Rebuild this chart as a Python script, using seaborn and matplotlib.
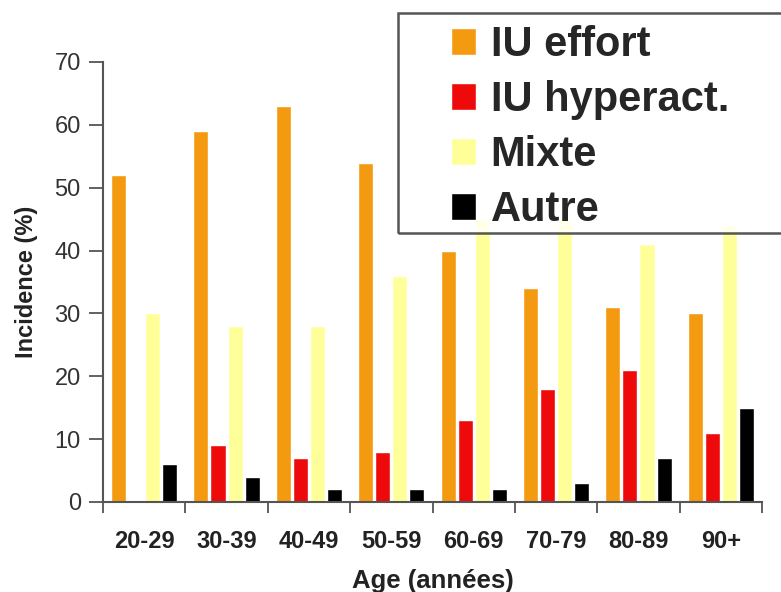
import pandas as pd
import numpy as np
import matplotlib.pyplot as plt
import seaborn as sns
from matplotlib.patches import Rectangle

ages = ['20-29', '30-39', '40-49', '50-59', '60-69', '70-79', '80-89', '90+']
types = ['IU effort', 'IU hyperact.', 'Mixte', 'Autre']
effort = [52, 59, 63, 54, 40, 34, 31, 30]
hyperact = [0, 9, 7, 8, 13, 18, 21, 11]
mixte = [30, 28, 28, 36, 45, 45, 41, 44]
autre = [6, 4, 2, 2, 2, 3, 7, 15]
colors = ['#F39A10', '#EE0A0A', '#FFFF99', '#000000']

df = pd.DataFrame({'age': ages * 4,
                   'type': np.repeat(types, len(ages)),
                   'value': effort + hyperact + mixte + autre})

sns.set_style('white')
plt.rcParams['font.family'] = ['Liberation Sans', 'DejaVu Sans']

fig = plt.figure(figsize=(7.81, 5.92), dpi=100)
ax = fig.add_axes([103 / 781, 1 - 502 / 592, 659 / 781, 440 / 592])
sns.barplot(data=df, x='age', y='value', hue='type', palette=colors, saturation=1,
            width=0.83, gap=0.12, ax=ax, legend=False)

ax.set_xlim(-0.5, 7.5)
ax.set_ylim(0, 70)
ax.set_yticks(range(0, 71, 10))
sns.despine(ax=ax)
for s in ['left', 'bottom']:
    ax.spines[s].set_color('#555555')
    ax.spines[s].set_linewidth(1.5)

ax.set_xticks(np.arange(-0.5, 8, 1), minor=True)
ax.tick_params(axis='x', which='major', bottom=True, length=0, pad=20, labelsize=17,
               labelcolor='#222222')
ax.tick_params(axis='x', which='minor', bottom=True, length=8, width=1.3, color='#555555',
               direction='out')
ax.tick_params(axis='y', left=True, length=10, width=1.3, color='#555555', direction='out',
               labelsize=17, labelcolor='#333333', pad=6)
for lab in ax.get_xticklabels():
    lab.set_fontweight('bold')

ax.set_xlabel('Age (années)', fontsize=18.5, fontweight='bold', color='#222222', labelpad=12)
ax.set_ylabel('Incidence (%)', fontsize=17, fontweight='bold', color='#222222', labelpad=12)

# legend box (semi transparent, runs off the right edge)
box = Rectangle((398 / 781, 1 - 233 / 592), 420 / 781, 220 / 592, transform=fig.transFigure,
                facecolor='white', alpha=0.8, edgecolor='none', zorder=5)
fig.patches.append(box)
frame = Rectangle((398 / 781, 1 - 233 / 592), 420 / 781, 220 / 592, transform=fig.transFigure,
                  facecolor='none', edgecolor='#555555', linewidth=1.8, zorder=6)
fig.patches.append(frame)

handles = [Rectangle((0, 0), 1, 1, facecolor=c) for c in colors]
leg = fig.legend(handles, types, loc='upper left', bbox_to_anchor=(451 / 781, 1 - 25 / 592),
                 frameon=False, prop={'size': 30, 'weight': 'bold'},
                 handlelength=0.6, handleheight=0.6, handletextpad=0.35,
                 labelspacing=0.36, borderpad=0, borderaxespad=0)
leg.set_zorder(7)

fig.savefig('out.png', dpi=100)
